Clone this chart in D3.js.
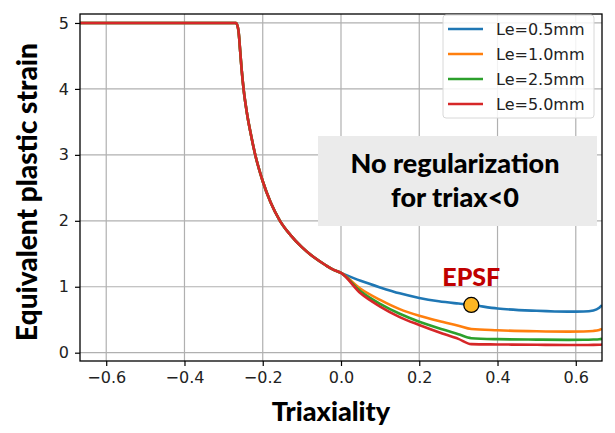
<!DOCTYPE html>
<html>
<head>
<meta charset="utf-8">
<script src="https://cdn.jsdelivr.net/npm/d3@7"></script>
<style>
  html, body { margin: 0; padding: 0; background: #fff; }
  svg { display: block; }
</style>
</head>
<body>
<svg id="chart" width="615" height="433"></svg>
<script>
// ---- data ----
const seriesNames = ["Le=0.5mm", "Le=1.0mm", "Le=2.5mm", "Le=5.0mm"];
const seriesColors = ["#1f77b4", "#ff7f0e", "#2ca02c", "#d62728"];

// shared branch for triaxiality < 0 (no regularization)
const negTriax = [-0.667, -0.268, -0.262, -0.258, -0.254, -0.249, -0.240, -0.230, -0.220, -0.200, -0.180, -0.156, -0.130, -0.100, -0.070, -0.040, -0.020];
const negStrain = [5.0, 5.0, 4.88, 4.6, 4.3, 4.0, 3.62, 3.3, 3.02, 2.6, 2.28, 2.0, 1.79, 1.6, 1.45, 1.33, 1.26];

// positive triaxiality branch
const posTriax = [0.0, 0.05, 0.1, 0.15, 0.2, 0.25, 0.3, 0.333, 0.4, 0.5, 0.58, 0.62, 0.645, 0.66, 0.667];
const strainLe05 = [1.21, 1.09, 0.99, 0.90, 0.83, 0.78, 0.745, 0.724, 0.67, 0.635, 0.622, 0.625, 0.64, 0.68, 0.72];
const strainLe10 = [1.21, 0.97, 0.80, 0.66, 0.56, 0.48, 0.41, 0.36, 0.34, 0.325, 0.32, 0.322, 0.33, 0.345, 0.36];
const strainLe25 = [1.21, 0.93, 0.74, 0.59, 0.47, 0.37, 0.28, 0.22, 0.205, 0.198, 0.195, 0.196, 0.2, 0.205, 0.21];
const strainLe50 = [1.21, 0.90, 0.70, 0.54, 0.42, 0.31, 0.21, 0.13, 0.125, 0.12, 0.117, 0.117, 0.118, 0.121, 0.125];
const seriesValues = [strainLe05, strainLe10, strainLe25, strainLe50];

const xTicks = [-0.6, -0.4, -0.2, 0.0, 0.2, 0.4, 0.6];
const yTicks = [0, 1, 2, 3, 4, 5];
const epsfPoint = [0.333, 0.724];

// ---- layout ----
const svg = d3.select("#chart");
const x = d3.scaleLinear().domain([-0.667, 0.667]).range([80, 602]);
const y = d3.scaleLinear().domain([-0.126, 5.136]).range([361, 14]);

const tickFont = "'DejaVu Sans', sans-serif";
const labelFont = "Lato, 'Open Sans', sans-serif";
const labelWeight = 900;

// grid
svg.append("g").selectAll("line").data(xTicks).join("line")
  .attr("x1", d => x(d)).attr("x2", d => x(d))
  .attr("y1", y.range()[0]).attr("y2", y.range()[1])
  .attr("stroke", "#b0b0b0").attr("stroke-width", 1.2);
svg.append("g").selectAll("line").data(yTicks).join("line")
  .attr("y1", d => y(d)).attr("y2", d => y(d))
  .attr("x1", x.range()[0]).attr("x2", x.range()[1])
  .attr("stroke", "#b0b0b0").attr("stroke-width", 1.2);

// clip
svg.append("clipPath").attr("id", "clip").append("rect")
  .attr("x", 80).attr("y", 14).attr("width", 522).attr("height", 347);

const line = d3.line().x(d => x(d[0])).y(d => y(d[1]));
const plot = svg.append("g").attr("clip-path", "url(#clip)");

seriesValues.forEach((vals, i) => {
  const pts = negTriax.map((t, k) => [t, negStrain[k]])
    .concat(posTriax.map((t, k) => [t, vals[k]]));
  plot.append("path").datum(pts)
    .attr("fill", "none")
    .attr("stroke", seriesColors[i])
    .attr("stroke-width", 2.6)
    .attr("stroke-linejoin", "round")
    .attr("d", line.curve(d3.curveMonotoneX));
});

// EPSF point
svg.append("circle")
  .attr("cx", x(epsfPoint[0])).attr("cy", y(epsfPoint[1])).attr("r", 7.5)
  .attr("fill", "#fdb623").attr("stroke", "#000").attr("stroke-width", 1.3);
svg.append("text")
  .attr("x", x(epsfPoint[0])).attr("y", y(epsfPoint[1]) - 19)
  .attr("text-anchor", "middle")
  .attr("font-family", labelFont).attr("font-weight", labelWeight)
  .attr("font-size", 25).attr("fill", "#c00000")
  .text("EPSF");

// annotation box
svg.append("rect").attr("x", 318).attr("y", 136).attr("width", 279).attr("height", 90)
  .attr("fill", "#ebebeb");
const ann = svg.append("text").attr("text-anchor", "middle")
  .attr("font-family", labelFont).attr("font-weight", labelWeight)
  .attr("font-size", 27).attr("fill", "#000");
ann.append("tspan").attr("x", 455).attr("y", 173).text("No regularization");
ann.append("tspan").attr("x", 455).attr("y", 207).text("for triax<0");

// spines
svg.append("rect").attr("x", 80).attr("y", 14).attr("width", 522).attr("height", 347)
  .attr("fill", "none").attr("stroke", "#000").attr("stroke-width", 1.3);

// axes
const xAxis = svg.append("g").attr("transform", "translate(0,361)")
  .call(d3.axisBottom(x).tickValues(xTicks).tickFormat(d3.format(".1f")).tickSizeOuter(0).tickSize(5).tickPadding(6));
const yAxis = svg.append("g").attr("transform", "translate(80,0)")
  .call(d3.axisLeft(y).tickValues(yTicks).tickFormat(d3.format("d")).tickSizeOuter(0).tickSize(5).tickPadding(6));
[xAxis, yAxis].forEach(a => {
  a.select(".domain").remove();
  a.selectAll(".tick line").attr("stroke", "#000").attr("stroke-width", 1.2);
  a.selectAll(".tick text").attr("font-family", tickFont).attr("font-size", 16).attr("fill", "#222");
});
xAxis.selectAll(".tick text").text(d => d3.format(".1f")(d).replace("-", "\u2212"));

// axis labels
svg.append("text").attr("x", 331).attr("y", 421).attr("text-anchor", "middle")
  .attr("font-family", labelFont).attr("font-weight", labelWeight).attr("font-size", 27)
  .text("Triaxiality");
svg.append("text").attr("transform", "translate(37,192) rotate(-90)").attr("text-anchor", "middle")
  .attr("font-family", labelFont).attr("font-weight", labelWeight).attr("font-size", 28)
  .text("Equivalent plastic strain");

// legend
const lg = svg.append("g");
lg.append("rect").attr("x", 443).attr("y", 15).attr("width", 151).attr("height", 103)
  .attr("rx", 3).attr("fill", "#fff").attr("fill-opacity", 0.85)
  .attr("stroke", "#d8d8d8").attr("stroke-width", 1);
seriesNames.forEach((name, i) => {
  const ly = 29 + i * 25;
  lg.append("line").attr("x1", 448).attr("x2", 483).attr("y1", ly).attr("y2", ly)
    .attr("stroke", seriesColors[i]).attr("stroke-width", 2.6);
  lg.append("text").attr("x", 496).attr("y", ly + 6)
    .attr("font-family", tickFont).attr("font-size", 16).attr("fill", "#222")
    .text(name);
});
</script>
</body>
</html>
